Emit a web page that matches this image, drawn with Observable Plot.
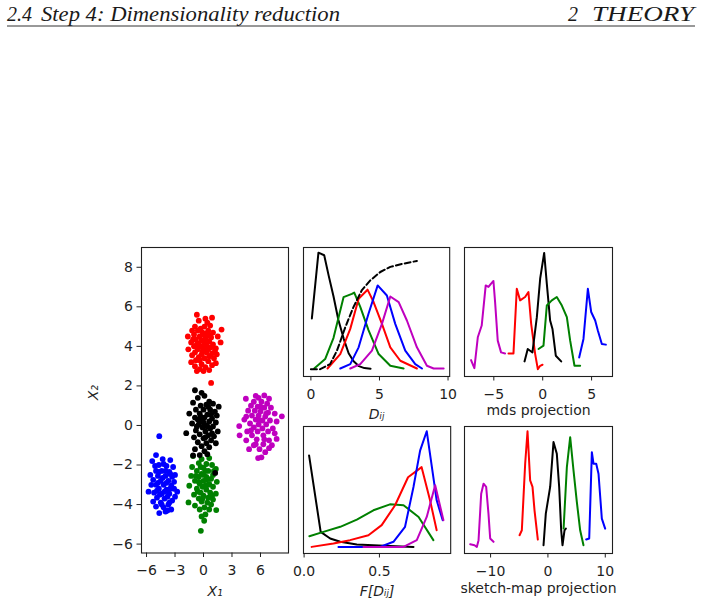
<!DOCTYPE html>
<html><head><meta charset="utf-8">
<script src="https://cdn.jsdelivr.net/npm/d3@7"></script>
<script src="https://cdn.jsdelivr.net/npm/@observablehq/plot@0.6"></script>
<style>
body{margin:0;background:#fff;}
#page{position:relative;width:702px;height:607px;overflow:hidden;background:#fff;}
</style></head><body><div id="page"></div>
<script>
// ---------- header texts ----------
const headLeftNum = "2.4";
const headLeftText = "Step 4: Dimensionality reduction";
const headRightNum = "2";
const headRightText = "THEORY";

// ---------- panel 1: scatter clusters (X1, X2) ----------
const redPts = [[-0.7,5.6],[0.2,5.4],[0.9,5.45],[-0.5,5.3],[0.4,5.2],[-0.9,5.0],[0.1,5.0],[0.7,5.05],[-0.3,4.9],[1.9,4.85],[-1.2,4.8],[-0.6,4.8],[0.5,4.8],[1.0,4.7],[-1.0,4.6],[0.0,4.6],[0.3,4.65],[-1.65,4.5],[-0.4,4.5],[0.8,4.45],[1.5,4.5],[-0.8,4.35],[0.2,4.4],[-0.2,4.3],[0.6,4.25],[1.8,4.2],[-1.3,4.2],[-0.5,4.15],[0.1,4.1],[1.0,4.1],[-1.0,4.0],[-0.3,4.0],[0.4,4.0],[0.8,3.95],[-1.6,3.85],[-0.6,3.85],[0.0,3.85],[1.3,3.9],[-0.9,3.7],[0.3,3.7],[0.9,3.65],[-0.2,3.6],[1.4,3.6],[-1.2,3.55],[0.6,3.5],[-0.5,3.45],[0.1,3.4],[1.1,3.4],[-0.8,3.3],[0.5,3.25],[-1.3,3.2],[1.3,3.15],[-0.2,3.1],[0.9,3.05],[-0.9,3.0],[0.2,2.95],[-0.4,2.85],[0.6,2.8],[-0.7,2.75],[0.0,2.75],[0.8,2.15],[-0.1,4.7],[0.6,4.55],[-0.7,4.1],[0.2,4.2],[-0.1,3.75],[0.5,3.85],[-0.4,3.3],[1.2,3.75],[-1.1,4.35]];
const blackPts = [[-0.9,1.78],[-0.2,1.65],[0.1,1.5],[-0.6,1.4],[0.6,1.2],[-1.1,1.15],[1.0,1.1],[0.3,1.05],[-0.3,1.0],[1.6,0.95],[-0.8,0.8],[0.0,0.8],[0.7,0.8],[1.2,0.7],[-1.5,0.6],[-0.4,0.6],[0.4,0.55],[1.4,0.5],[-0.9,0.4],[0.1,0.4],[0.9,0.35],[-0.2,0.25],[0.6,0.2],[1.3,0.15],[-1.2,0.1],[-0.5,0.05],[0.3,0.0],[1.0,-0.05],[-0.1,-0.1],[0.7,-0.15],[-1.82,-0.39],[-0.8,-0.25],[0.2,-0.3],[1.5,-0.3],[-0.4,-0.45],[0.5,-0.5],[1.1,-0.55],[-1.0,-0.6],[0.0,-0.65],[0.8,-0.75],[-0.6,-0.85],[0.3,-0.9],[1.3,-0.9],[-0.2,-1.05],[0.6,-1.1],[-0.9,-1.2],[0.1,-1.3],[-0.4,-1.5],[-1.1,-1.52],[0.4,-1.45],[1.23,-2.4],[-0.6,0.3],[0.5,0.95],[0.2,-0.6],[-0.3,0.45],[0.9,-0.4],[0.0,0.15],[0.4,-0.05],[-0.7,-0.05],[0.8,0.55]];
const greenPts = [[-1.1,-1.55],[-0.2,-1.7],[0.6,-1.65],[-0.5,-1.9],[0.3,-1.95],[0.9,-2.0],[-1.2,-2.1],[0.0,-2.15],[1.3,-2.2],[-0.7,-2.3],[0.5,-2.3],[-0.2,-2.45],[1.0,-2.5],[-1.3,-2.55],[-0.5,-2.6],[0.3,-2.6],[0.8,-2.7],[-0.9,-2.8],[0.0,-2.8],[1.4,-2.85],[-0.4,-2.95],[0.5,-3.0],[-1.5,-3.05],[-0.1,-3.1],[1.0,-3.1],[-0.7,-3.2],[0.3,-3.25],[-0.3,-3.4],[0.7,-3.4],[1.3,-3.45],[-1.0,-3.5],[0.0,-3.55],[0.5,-3.65],[-0.5,-3.7],[1.0,-3.75],[-1.58,-3.89],[-0.2,-3.85],[0.4,-3.9],[-0.9,-4.05],[0.8,-4.0],[0.1,-4.15],[-0.4,-4.25],[1.34,-4.28],[0.2,-4.5],[-0.2,-4.6],[0.07,-4.82],[-0.28,-5.33],[0.2,-2.3],[-0.3,-2.1],[0.6,-2.95],[-0.6,-3.35],[0.2,-3.05],[-0.8,-2.55],[0.9,-3.55],[0.3,-2.75],[-0.1,-3.7],[0.6,-4.25],[-0.5,-2.85],[1.1,-2.3],[0.0,-2.5]];
const bluePts = [[-4.66,-0.54],[-5.0,-1.5],[-4.3,-1.7],[-3.5,-1.75],[-5.4,-1.8],[-4.7,-2.0],[-3.9,-2.05],[-3.2,-2.1],[-5.0,-2.3],[-4.4,-2.3],[-3.6,-2.35],[-5.6,-2.5],[-4.8,-2.55],[-4.0,-2.55],[-3.0,-2.5],[-5.3,-2.75],[-4.5,-2.8],[-3.7,-2.8],[-3.1,-2.85],[-5.0,-3.0],[-4.2,-3.0],[-3.4,-3.05],[-5.79,-3.35],[-4.7,-3.2],[-3.9,-3.25],[-2.77,-3.35],[-5.2,-3.4],[-4.4,-3.45],[-3.6,-3.45],[-3.0,-3.6],[-4.9,-3.65],[-4.1,-3.7],[-3.3,-3.8],[-5.3,-3.85],[-4.5,-3.9],[-3.7,-4.0],[-5.0,-4.1],[-4.2,-4.15],[-3.4,-4.25],[-4.66,-4.43],[-3.8,-4.3],[-4.0,-2.3],[-4.6,-3.5],[-3.8,-3.6],[-4.3,-2.65],[-3.5,-3.2],[-4.8,-2.9],[-4.1,-3.35],[-3.3,-2.6],[-5.1,-2.05],[-4.4,-4.0],[-3.9,-2.9],[-4.9,-3.3],[-3.6,-3.9],[-4.2,-1.95],[-5.5,-3.0],[-3.1,-3.2],[-4.0,-4.35],[-4.7,-2.35],[-3.5,-2.45]];
const magentaPts = [[5.5,1.5],[6.4,1.52],[5.8,1.4],[4.46,1.35],[6.9,1.35],[5.3,1.2],[6.1,1.2],[6.7,1.1],[5.0,1.0],[5.7,0.95],[6.4,0.9],[7.1,0.9],[4.7,0.75],[5.4,0.75],[6.0,0.7],[6.8,0.65],[7.5,0.6],[5.1,0.5],[5.8,0.5],[6.5,0.45],[8.25,0.46],[4.3,0.3],[5.5,0.3],[6.2,0.25],[7.0,0.25],[7.7,0.2],[4.9,0.1],[5.8,0.05],[6.6,0.05],[3.76,-0.03],[5.3,-0.1],[6.2,-0.15],[7.3,-0.15],[4.6,-0.3],[5.7,-0.3],[6.8,-0.3],[3.8,-0.5],[5.1,-0.5],[6.3,-0.5],[7.7,-0.68],[4.5,-0.75],[5.6,-0.7],[6.9,-0.75],[5.3,-1.0],[6.3,-0.95],[7.2,-1.0],[4.8,-1.2],[5.9,-1.2],[6.5,-1.35],[6.1,-1.61],[5.75,-1.65],[6.0,0.95],[5.9,0.25],[6.4,-0.7],[5.0,-0.25],[6.6,0.6],[5.5,-0.95],[7.5,-0.4],[4.5,0.45],[6.9,-1.15]];
const scatterTicksX = [-6,-3,0,3,6];
const scatterTicksY = [-6,-4,-2,0,2,4,6,8];

// ---------- panel 2: distribution of D_ij (relative height 0..1) ----------
const dijK = [[0.07,0.45],[0.55,0.96],[0.97,0.94],[1.3,0.78],[1.65,0.62],[2.0,0.44],[2.4,0.29],[2.75,0.18],[3.1,0.12],[3.5,0.08],[3.9,0.065],[4.35,0.06]];
const dijG = [[0.24,0.062],[1.04,0.135],[1.65,0.30],[2.38,0.615],[2.99,0.64],[3.16,0.65],[3.6,0.54],[4.2,0.36],[4.94,0.174],[5.79,0.083],[6.76,0.062]];
const dijR = [[1.21,0.062],[2.14,0.174],[2.87,0.369],[3.48,0.603],[4.13,0.673],[4.57,0.577],[5.18,0.408],[5.79,0.226],[6.52,0.122],[7.73,0.062]];
const dijB = [[2.14,0.062],[2.87,0.096],[3.48,0.226],[4.2,0.486],[4.87,0.706],[5.54,0.628],[6.15,0.408],[6.88,0.2],[7.61,0.096],[8.1,0.062]];
const dijM = [[2.87,0.062],[3.6,0.096],[4.45,0.2],[5.18,0.408],[5.79,0.62],[6.4,0.577],[7.0,0.434],[7.73,0.226],[8.46,0.083],[8.95,0.062],[9.68,0.062]];
const dijCum = [[0.0,0.057],[0.68,0.057],[1.4,0.096],[1.9,0.2],[2.5,0.38],[3.11,0.54],[3.72,0.67],[4.33,0.745],[5.06,0.81],[5.79,0.85],[6.76,0.875],[7.73,0.896]];
const dijTicks = [0,5,10];

// ---------- panel 3: mds projection ----------
const mdsM = [[-7.33,0.127],[-6.99,0.065],[-6.64,0.304],[-6.24,0.395],[-5.83,0.706],[-5.55,0.694],[-5.28,0.72],[-5.04,0.74],[-4.87,0.577],[-4.6,0.278],[-4.26,0.187],[-3.85,0.179]];
const mdsR = [[-3.5,0.179],[-2.99,0.179],[-2.65,0.68],[-2.31,0.59],[-1.8,0.616],[-1.46,0.655],[-1.18,0.408],[-0.77,0.174],[-0.5,0.057],[-0.26,0.083],[-0.02,0.091]];
const mdsK = [[-1.86,0.117],[-1.53,0.213],[-1.29,0.2],[-1.05,0.187],[-0.6,0.46],[-0.26,0.758],[0.15,0.958],[0.42,0.72],[0.76,0.434],[1.0,0.369],[1.34,0.161],[1.89,0.117]];
const mdsG = [[-0.43,0.213],[0.08,0.239],[0.42,0.55],[0.93,0.59],[1.44,0.616],[1.96,0.55],[2.47,0.46],[2.81,0.278],[3.25,0.083],[3.83,0.083]];
const mdsB = [[3.73,0.148],[4.17,0.291],[4.62,0.68],[4.96,0.5],[5.37,0.434],[5.64,0.356],[6.05,0.252],[6.46,0.247]];
const mdsTicks = [-5,0,5];

// ---------- panel 4: distribution of F[D_ij] ----------
const fdK = [[0.033,0.772],[0.11,0.17],[0.173,0.118],[0.24,0.092],[0.35,0.071],[0.57,0.058],[0.726,0.052]];
const fdG = [[0.035,0.136],[0.128,0.17],[0.24,0.21],[0.35,0.267],[0.46,0.34],[0.57,0.387],[0.66,0.38],[0.76,0.288],[0.858,0.105]];
const fdR = [[0.05,0.052],[0.195,0.079],[0.305,0.105],[0.427,0.144],[0.515,0.223],[0.604,0.38],[0.69,0.6],[0.78,0.68],[0.836,0.419],[0.88,0.183]];
const fdB = [[0.228,0.052],[0.504,0.052],[0.593,0.092],[0.67,0.21],[0.726,0.524],[0.77,0.81],[0.814,0.963],[0.88,0.419],[0.92,0.262]];
const fdM = [[0.394,0.052],[0.66,0.052],[0.748,0.105],[0.814,0.288],[0.87,0.537],[0.925,0.262]];
const fdTicks = [0,0.5];

// ---------- panel 5: sketch-map projection ----------
const smM = [[-13.56,0.073],[-12.8,0.065],[-12.4,0.052],[-12.1,0.105],[-11.64,0.47],[-11.23,0.55],[-10.77,0.524],[-10.37,0.314],[-10.07,0.118],[-9.49,0.092]];
const smR = [[-4.95,0.144],[-4.55,0.183],[-3.97,0.707],[-3.56,0.963],[-3.1,0.576],[-2.69,0.524],[-2.34,0.34],[-1.76,0.11]];
const smK = [[-0.77,0.065],[-0.37,0.314],[0.39,0.524],[0.97,0.877],[1.55,0.785],[1.96,0.524],[2.31,0.183],[2.54,0.065],[2.89,0.183],[3.12,0.196]];
const smG = [[2.73,0.196],[3.3,0.68],[3.88,0.916],[4.46,0.654],[5.04,0.406],[5.62,0.183],[6.2,0.065]];
const smB = [[6.67,0.11],[7.2,0.118],[7.66,0.798],[7.95,0.707],[8.42,0.707],[8.82,0.628],[9.4,0.275],[9.98,0.196]];
const smTicks = [-10,0,10];

// ---------- colours ----------
const C = {k:"#000000", r:"#ff0000", g:"#008000", b:"#0000ff", m:"#bf00bf"};

// ---------- build ----------
const page = document.getElementById("page");
const FONT = "DejaVu Sans";
const INK = "#1f1f1f";

// header
{
  const svg = d3.create("svg").attr("width",702).attr("height",32)
    .style("position","absolute").style("left","0px").style("top","0px");
  const t = (x, s, len) => {
    const el = svg.append("text").attr("x",x).attr("y",20.5)
      .attr("font-family","Liberation Serif").attr("font-style","italic").attr("font-size",20)
      .attr("fill","#1a1a1a").text(s);
    if (len) el.attr("textLength",len).attr("lengthAdjust","spacingAndGlyphs");
  };
  t(7, headLeftNum);
  t(41, headLeftText, 299);
  t(568, headRightNum);
  t(592, headRightText, 102);
  svg.append("line").attr("x1",7).attr("x2",695).attr("y1",26).attr("y2",26).attr("stroke","#333").attr("stroke-width",1);
  page.appendChild(svg.node());
}

function panel({frame, xDomain, yDomain, xTicks, yTicks, xFormat, marks, label, labelDy, italic}) {
  const [l,t,r,b] = frame;
  const mL = 50, mR = 6, mT = 6, mB = 50;
  const svg = Plot.plot({
    width: (r-l)+mL+mR, height: (b-t)+mT+mB,
    marginLeft: mL, marginRight: mR, marginTop: mT, marginBottom: mB,
    style: {fontFamily: FONT, fontSize: "14px", color: INK, background: "transparent", overflow: "visible", maxWidth: "none"},
    x: {domain: xDomain},
    y: {domain: yDomain, axis: yTicks ? undefined : null},
    marks: [
      ...marks,
      Plot.axisX({ticks: xTicks, tickSize: 4.5, tickPadding: 8, label: null, tickFormat: xFormat || d3.format("d"), fontSize: 14}),
      yTicks ? Plot.axisY({ticks: yTicks, tickSize: 4.5, tickPadding: 4, label: null, tickFormat: d3.format("d"), fontSize: 14}) : null,
      Plot.frame({stroke: INK, strokeWidth: 1.1}),
      Plot.text([label], {frameAnchor: "bottom", lineAnchor: "top", dy: labelDy, text: d => d, fontSize: 14, fontStyle: italic ? "italic" : "normal", fill: INK})
    ]
  });
  svg.style.position = "absolute";
  svg.style.left = (l - mL) + "px";
  svg.style.top = (t - mT) + "px";
  page.appendChild(svg);
  return svg;
}

const ln = (data, color, extra={}) => Plot.line(data, {x: d => d[0], y: d => d[1], stroke: color, strokeWidth: 2, ...extra});
const dots = (data, color) => Plot.dot(data, {x: d => d[0], y: d => d[1], fill: color, r: 2.9});

// panel 1
panel({
  frame: [141, 247, 288, 552.5], xDomain: [-6.53, 8.95], yDomain: [-6.45, 9.0],
  xTicks: scatterTicksX, yTicks: scatterTicksY,
  marks: [dots(bluePts, C.b), dots(greenPts, C.g), dots(redPts, C.r), dots(magentaPts, C.m), dots(blackPts, C.k),
    Plot.text(["X₂"], {frameAnchor: "left", dx: -47.5, rotate: -90, text: d => d, fontSize: 14, fontStyle: "italic", fill: INK})],
  label: "X₁", labelDy: 33, italic: true
});

// panel 2
panel({
  frame: [303.3, 247, 449.5, 376], xDomain: [-0.54, 10.12], yDomain: [0, 1],
  xTicks: dijTicks,
  marks: [ln(dijK, C.k), ln(dijG, C.g), ln(dijR, C.r), ln(dijB, C.b), ln(dijM, C.m), ln(dijCum, C.k, {strokeDasharray: "6,3"})],
  label: "Dᵢⱼ", labelDy: 33, italic: true
});

// panel 3
panel({
  frame: [464.3, 247, 612.3, 376], xDomain: [-8.0, 7.14], yDomain: [0, 1],
  xTicks: mdsTicks,
  marks: [ln(mdsM, C.m), ln(mdsR, C.r), ln(mdsK, C.k), ln(mdsG, C.g), ln(mdsB, C.b)],
  label: "mds projection", labelDy: 29, italic: false
});

// panel 4
panel({
  frame: [303.3, 426, 450.5, 553], xDomain: [-0.004, 0.973], yDomain: [0, 1],
  xTicks: fdTicks, xFormat: d3.format(".1f"),
  marks: [ln(fdK, C.k), ln(fdG, C.g), ln(fdR, C.r), ln(fdB, C.b), ln(fdM, C.m)],
  label: "F[Dᵢⱼ]", labelDy: 33, italic: true
});

// panel 5
panel({
  frame: [464.3, 426, 612.3, 553], xDomain: [-14.55, 11.26], yDomain: [0, 1],
  xTicks: smTicks,
  marks: [ln(smM, C.m), ln(smR, C.r), ln(smK, C.k), ln(smG, C.g), ln(smB, C.b)],
  label: "sketch-map projection", labelDy: 30, italic: false
});
</script>
</body></html>
